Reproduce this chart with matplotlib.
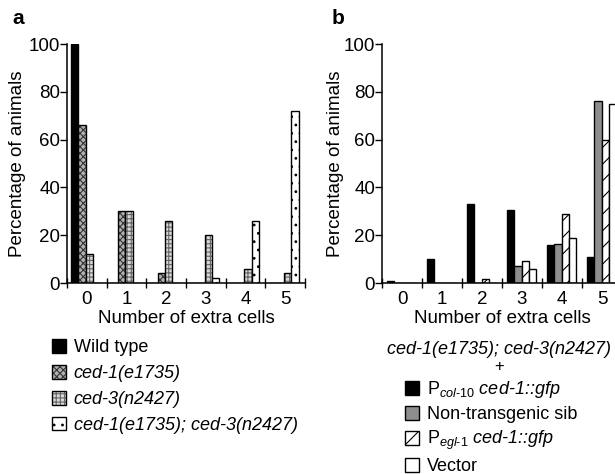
import matplotlib
matplotlib.use("Agg")
import matplotlib.pyplot as plt
import numpy as np
from matplotlib.patches import Patch
from matplotlib.legend_handler import HandlerTuple

plt.rcParams['font.family'] = ['Liberation Sans', 'DejaVu Sans']
plt.rcParams['mathtext.fontset'] = 'custom'
plt.rcParams['mathtext.rm'] = 'Liberation Sans'
plt.rcParams['mathtext.it'] = 'Liberation Sans:italic'
plt.rcParams['hatch.linewidth'] = 0.8

# data
cells = [0, 1, 2, 3, 4, 5]
wild = [100, 0, 0, 0, 0, 0]
ced1 = [66, 30, 4, 0, 0, 0]
ced3 = [12, 30, 26, 20, 6, 4]
double = [0, 0, 0, 2, 26, 72]

col10 = [1, 10, 33, 30.5, 16, 11]
nontrans = [0, 0, 0, 7, 16.5, 76]
egl1 = [0, 0, 1.7, 9, 29, 60]
vector = [0, 0, 0, 6, 19, 75]

labels_a = ['Wild type', 'ced-1(e1735)', 'ced-3(n2427)', 'ced-1(e1735); ced-3(n2427)']
italic_a = [False, True, True, True]
labels_b = [r'$\mathrm{P}_{\mathit{col‐10}}$ ced-1::gfp', 'Non-transgenic sib',
            r'$\mathrm{P}_{\mathit{egl‐1}}$ ced-1::gfp', 'Vector']
italic_b = [True, False, True, False]

# (face, hatch, hatch colour)
styles_a = [('black', None, 'black'), ('#b0b0b0', 'xxxxx', '#333333'),
            ('#d8d8d8', '++++', '#666666'), ('white', '..', 'black')]
styles_b = [('black', None, 'black'), ('#8e8e8e', None, '#8e8e8e'),
            ('white', '//', 'black'), ('white', None, 'black')]

FS = 13.5
W, H = 615, 474
fig = plt.figure(figsize=(W / 100, H / 100), dpi=100)
axa = fig.add_axes([67 / W, 1 - 283 / H, 238 / W, 239 / H])
axb = fig.add_axes([382 / W, 1 - 283 / H, 240 / W, 239 / H])


def draw(ax, series, styles, start, bw):
    x = np.array(cells)
    handles = []
    for k, (vals, (fc, hat, hc)) in enumerate(zip(series, styles)):
        pos = x - 0.5 + start + bw * (k + 0.5)
        ax.bar(pos, vals, bw, color=fc, hatch=hat, edgecolor=hc, linewidth=0)
        ax.bar(pos, vals, bw, fill=False, edgecolor='black', linewidth=1)
        handles.append((Patch(facecolor=fc, hatch=hat, edgecolor=hc, linewidth=0),
                        Patch(fill=False, edgecolor='black', linewidth=1)))
    return handles


def style(ax, ylab_x):
    ax.set_xlim(-0.5, 5.5)
    ax.set_ylim(0, 100)
    ax.set_yticks(range(0, 101, 20))
    ax.set_xticks(cells)
    ax.set_xticks(np.arange(-0.5, 5.6, 1), minor=True)
    ax.tick_params(axis='x', which='major', length=0, pad=6, labelsize=FS)
    ax.tick_params(axis='x', which='minor', length=7, width=1, direction='inout')
    ax.tick_params(axis='y', length=5, width=1, direction='out', pad=0, labelsize=FS)
    for s in ['top', 'right']:
        ax.spines[s].set_visible(False)
    for s in ['left', 'bottom']:
        ax.spines[s].set_linewidth(1.1)
    ax.set_ylabel('Percentage of animals', fontsize=FS)
    ax.yaxis.set_label_coords(ylab_x, 0.5)
    ax.set_xlabel('Number of extra cells', fontsize=FS)
    ax.xaxis.set_label_coords(0.5, -0.113)


ha = draw(axa, [wild, ced1, ced3, double], styles_a, 0.1, 0.185)
hb = draw(axb, [col10, nontrans, egl1, vector], styles_b, 0.12, 0.185)
style(axa, -0.172)
style(axb, -0.158)

fig.text(12 / W, 1 - 19 / H, 'a', fontsize=15, fontweight='bold', va='center')
fig.text(332 / W, 1 - 19 / H, 'b', fontsize=15, fontweight='bold', va='center')

leg_kw = dict(frameon=False, fontsize=13, handlelength=0.8, handleheight=0.8,
              handletextpad=0.4, borderpad=0, borderaxespad=0,
              handler_map={tuple: HandlerTuple(ndivide=1)})
lega = fig.legend(ha, labels_a, loc='upper left', bbox_to_anchor=(52 / W, 1 - 339 / H),
                  labelspacing=0.48, **leg_kw)
legb = fig.legend(hb, labels_b, loc='upper left', bbox_to_anchor=(405 / W, 1 - 379 / H),
                  labelspacing=0.32, **leg_kw)
for t, it in zip(lega.get_texts(), italic_a):
    t.set_fontstyle('italic' if it else 'normal')
for t, it in zip(legb.get_texts(), italic_b):
    t.set_fontstyle('italic' if it else 'normal')

fig.text(499 / W, 1 - 350 / H, 'ced-1(e1735); ced-3(n2427)', fontsize=13,
         fontstyle='italic', ha='center', va='center')
fig.text(499 / W, 1 - 367 / H, '+', fontsize=12, ha='center', va='center')

fig.savefig('out.png', dpi=100)
